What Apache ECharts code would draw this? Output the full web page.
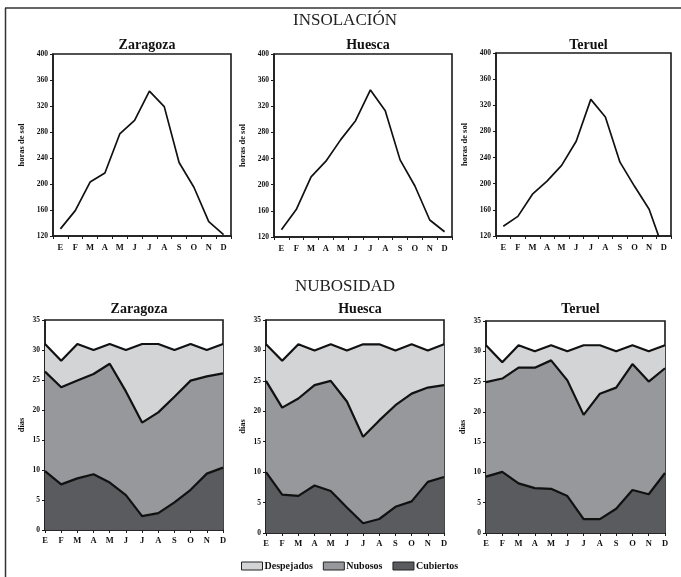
<!DOCTYPE html>
<html><head><meta charset="utf-8">
<script src="https://cdn.jsdelivr.net/npm/echarts@6/dist/echarts.min.js"></script>
<style>html,body{margin:0;padding:0;background:#fff}#c{width:681px;height:577px}</style>
</head><body><div id="c"></div>
<script>
var months = ['E','F','M','A','M','J','J','A','S','O','N','D'];
var cities = ['Zaragoza','Huesca','Teruel'];
var insolZaragoza = [131,159,203,217,277,298,343,319,233,195,142,122];
var insolHuesca   = [131,162,212,236,269,298,345,313,238,198,146,128];
var insolTeruel   = [135,150,184,204,228,265,329,302,233,196,161,98];
var insolTicks = [120,160,200,240,280,320,360,400];
var nubTicks = [0,5,10,15,20,25,30,35];
var cubZaragoza = [9.8,7.6,8.6,9.3,7.9,5.8,2.3,2.8,4.6,6.7,9.4,10.4];
var nubZaragoza = [16.6,16.2,16.3,16.7,19.8,17.3,15.6,16.8,17.6,18.2,16.2,15.7];
var desZaragoza = [4.6,4.4,6.1,4.0,3.3,6.9,13.1,11.4,7.8,6.1,4.4,4.9];
var cubHuesca = [10.0,6.3,6.1,7.8,6.9,4.2,1.6,2.3,4.3,5.2,8.4,9.2];
var nubHuesca = [15.0,14.3,16.0,16.5,18.1,17.4,14.2,16.2,16.7,17.7,15.5,15.1];
var desHuesca = [6.0,7.7,8.9,5.7,6.0,8.4,15.2,12.5,9.0,8.1,6.1,6.7];
var cubTeruel = [9.3,10.1,8.2,7.4,7.3,6.1,2.3,2.3,4.0,7.1,6.4,9.9];
var nubTeruel = [15.6,15.4,19.1,19.9,21.2,19.1,17.2,20.7,20.0,20.8,18.6,17.3];
var desTeruel = [6.1,2.7,3.7,2.7,2.5,4.8,11.5,8.0,6.0,3.1,5.0,3.8];
var serieNames = ['Despejados','Nubosos','Cubiertos'];
var colors = {Despejados:'#d3d4d6', Nubosos:'#97989b', Cubiertos:'#5a5b5e'};

var FONT = '"Liberation Serif","DejaVu Serif",serif';
var insol = [insolZaragoza, insolHuesca, insolTeruel];
var cub = [cubZaragoza, cubHuesca, cubTeruel];
var nub = [nubZaragoza, nubHuesca, nubTeruel];
var des = [desZaragoza, desHuesca, desTeruel];

var topGrids = [
  {left:53, top:54, width:178, height:182},
  {left:274, top:54, width:178, height:183},
  {left:496, top:53, width:175, height:183}
];
var botGrids = [
  {left:45, top:320, width:178, height:210},
  {left:266, top:320, width:178, height:213},
  {left:486, top:321, width:179, height:212}
];

var grid = [], xAxis = [], yAxis = [], series = [], title = [];
var axisLine = {show:true, lineStyle:{color:'#1a1a1a', width:1.5}};
var tickStyle = {show:true, length:3, lineStyle:{color:'#1a1a1a', width:1}};

function addGrid(g){
  grid.push(Object.assign({show:true, borderColor:'#1a1a1a', borderWidth:1.6, backgroundColor:'transparent', containLabel:false}, g));
  return grid.length - 1;
}

for (var i = 0; i < 3; i++) {
  var gi = addGrid(topGrids[i]);
  xAxis.push({type:'category', gridIndex:gi, data:months, boundaryGap:true,
    axisLine:axisLine, axisTick:{show:true, length:3, inside:false, lineStyle:{color:'#1a1a1a'}},
    axisLabel:{fontFamily:FONT, fontWeight:'bold', fontSize:8.5, color:'#111', margin:7}, splitLine:{show:false}});
  yAxis.push({type:'value', gridIndex:gi, min:insolTicks[0], max:insolTicks[insolTicks.length-1], interval:40,
    name:'horas de sol', nameLocation:'middle', nameRotate:90, nameGap:27,
    nameTextStyle:{fontFamily:FONT, fontWeight:'bold', fontSize:8.5, color:'#111'},
    axisLine:axisLine, axisTick:tickStyle,
    axisLabel:{fontFamily:FONT, fontWeight:'bold', fontSize:7.5, color:'#111', margin:5}, splitLine:{show:false}});
  series.push({type:'line', xAxisIndex:gi, yAxisIndex:gi, data:insol[i], showSymbol:false, symbol:'none',
    lineStyle:{color:'#111', width:1.7}, clip:true, silent:true});
  title.push({text:cities[i], left:topGrids[i].left + topGrids[i].width/2, top:33, textAlign:'center',
    textStyle:{fontFamily:FONT, fontWeight:'bold', fontSize:14, color:'#111'}});
}

for (var j = 0; j < 3; j++) {
  var gb = addGrid(botGrids[j]);
  xAxis.push({type:'category', gridIndex:gb, data:months, boundaryGap:false,
    axisLine:axisLine, axisTick:{show:true, length:3, lineStyle:{color:'#1a1a1a'}},
    axisLabel:{fontFamily:FONT, fontWeight:'bold', fontSize:8.5, color:'#111', margin:6}, splitLine:{show:false}});
  yAxis.push({type:'value', gridIndex:gb, min:nubTicks[0], max:nubTicks[nubTicks.length-1], interval:5,
    name:'días', nameLocation:'middle', nameRotate:90, nameGap:19,
    nameTextStyle:{fontFamily:FONT, fontWeight:'bold', fontSize:8.5, color:'#111'},
    axisLine:axisLine, axisTick:tickStyle,
    axisLabel:{fontFamily:FONT, fontWeight:'bold', fontSize:7.5, color:'#111', margin:5}, splitLine:{show:false}});
  var stackData = {Cubiertos:cub[j], Nubosos:nub[j], Despejados:des[j]};
  ['Cubiertos','Nubosos','Despejados'].forEach(function(nm){
    series.push({type:'line', name:nm, xAxisIndex:gb, yAxisIndex:gb, stack:'s'+j, data:stackData[nm],
      showSymbol:false, symbol:'none', lineStyle:{color:'#111', width:2.2},
      itemStyle:{color:colors[nm]}, areaStyle:{color:colors[nm], opacity:1}, silent:true});
  });
  title.push({text:cities[j], left:botGrids[j].left + botGrids[j].width/2, top:297, textAlign:'center',
    textStyle:{fontFamily:FONT, fontWeight:'bold', fontSize:14, color:'#111'}});
}

title.push({text:'INSOLACIÓN', left:340, top:7, textAlign:'center',
  textStyle:{fontFamily:FONT, fontWeight:'normal', fontSize:17, color:'#222'}});
title.push({text:'NUBOSIDAD', left:340, top:273, textAlign:'center',
  textStyle:{fontFamily:FONT, fontWeight:'normal', fontSize:17, color:'#222'}});

var chart = echarts.init(document.getElementById('c'), null, {renderer:'canvas'});
chart.setOption({
  animation:false,
  backgroundColor:'#fff',
  title:title,
  grid:grid, xAxis:xAxis, yAxis:yAxis, series:series,
  legend:{data:serieNames.map(function(n){return {name:n, icon:'rect', itemStyle:{color:colors[n], borderColor:'#222', borderWidth:1}};}),
    left:236, top:556, itemWidth:21, itemHeight:8, itemGap:10, selectedMode:false,
    textStyle:{fontFamily:FONT, fontWeight:'bold', fontSize:10, color:'#111', padding:[0,0,0,-3]}},
  graphic:[
    {type:'line', shape:{x1:5, y1:8, x2:681, y2:8}, style:{stroke:'#333', lineWidth:1.5}, silent:true},
    {type:'line', shape:{x1:5.5, y1:8, x2:5.5, y2:577}, style:{stroke:'#333', lineWidth:1.5}, silent:true}
  ]
});
</script></body></html>
